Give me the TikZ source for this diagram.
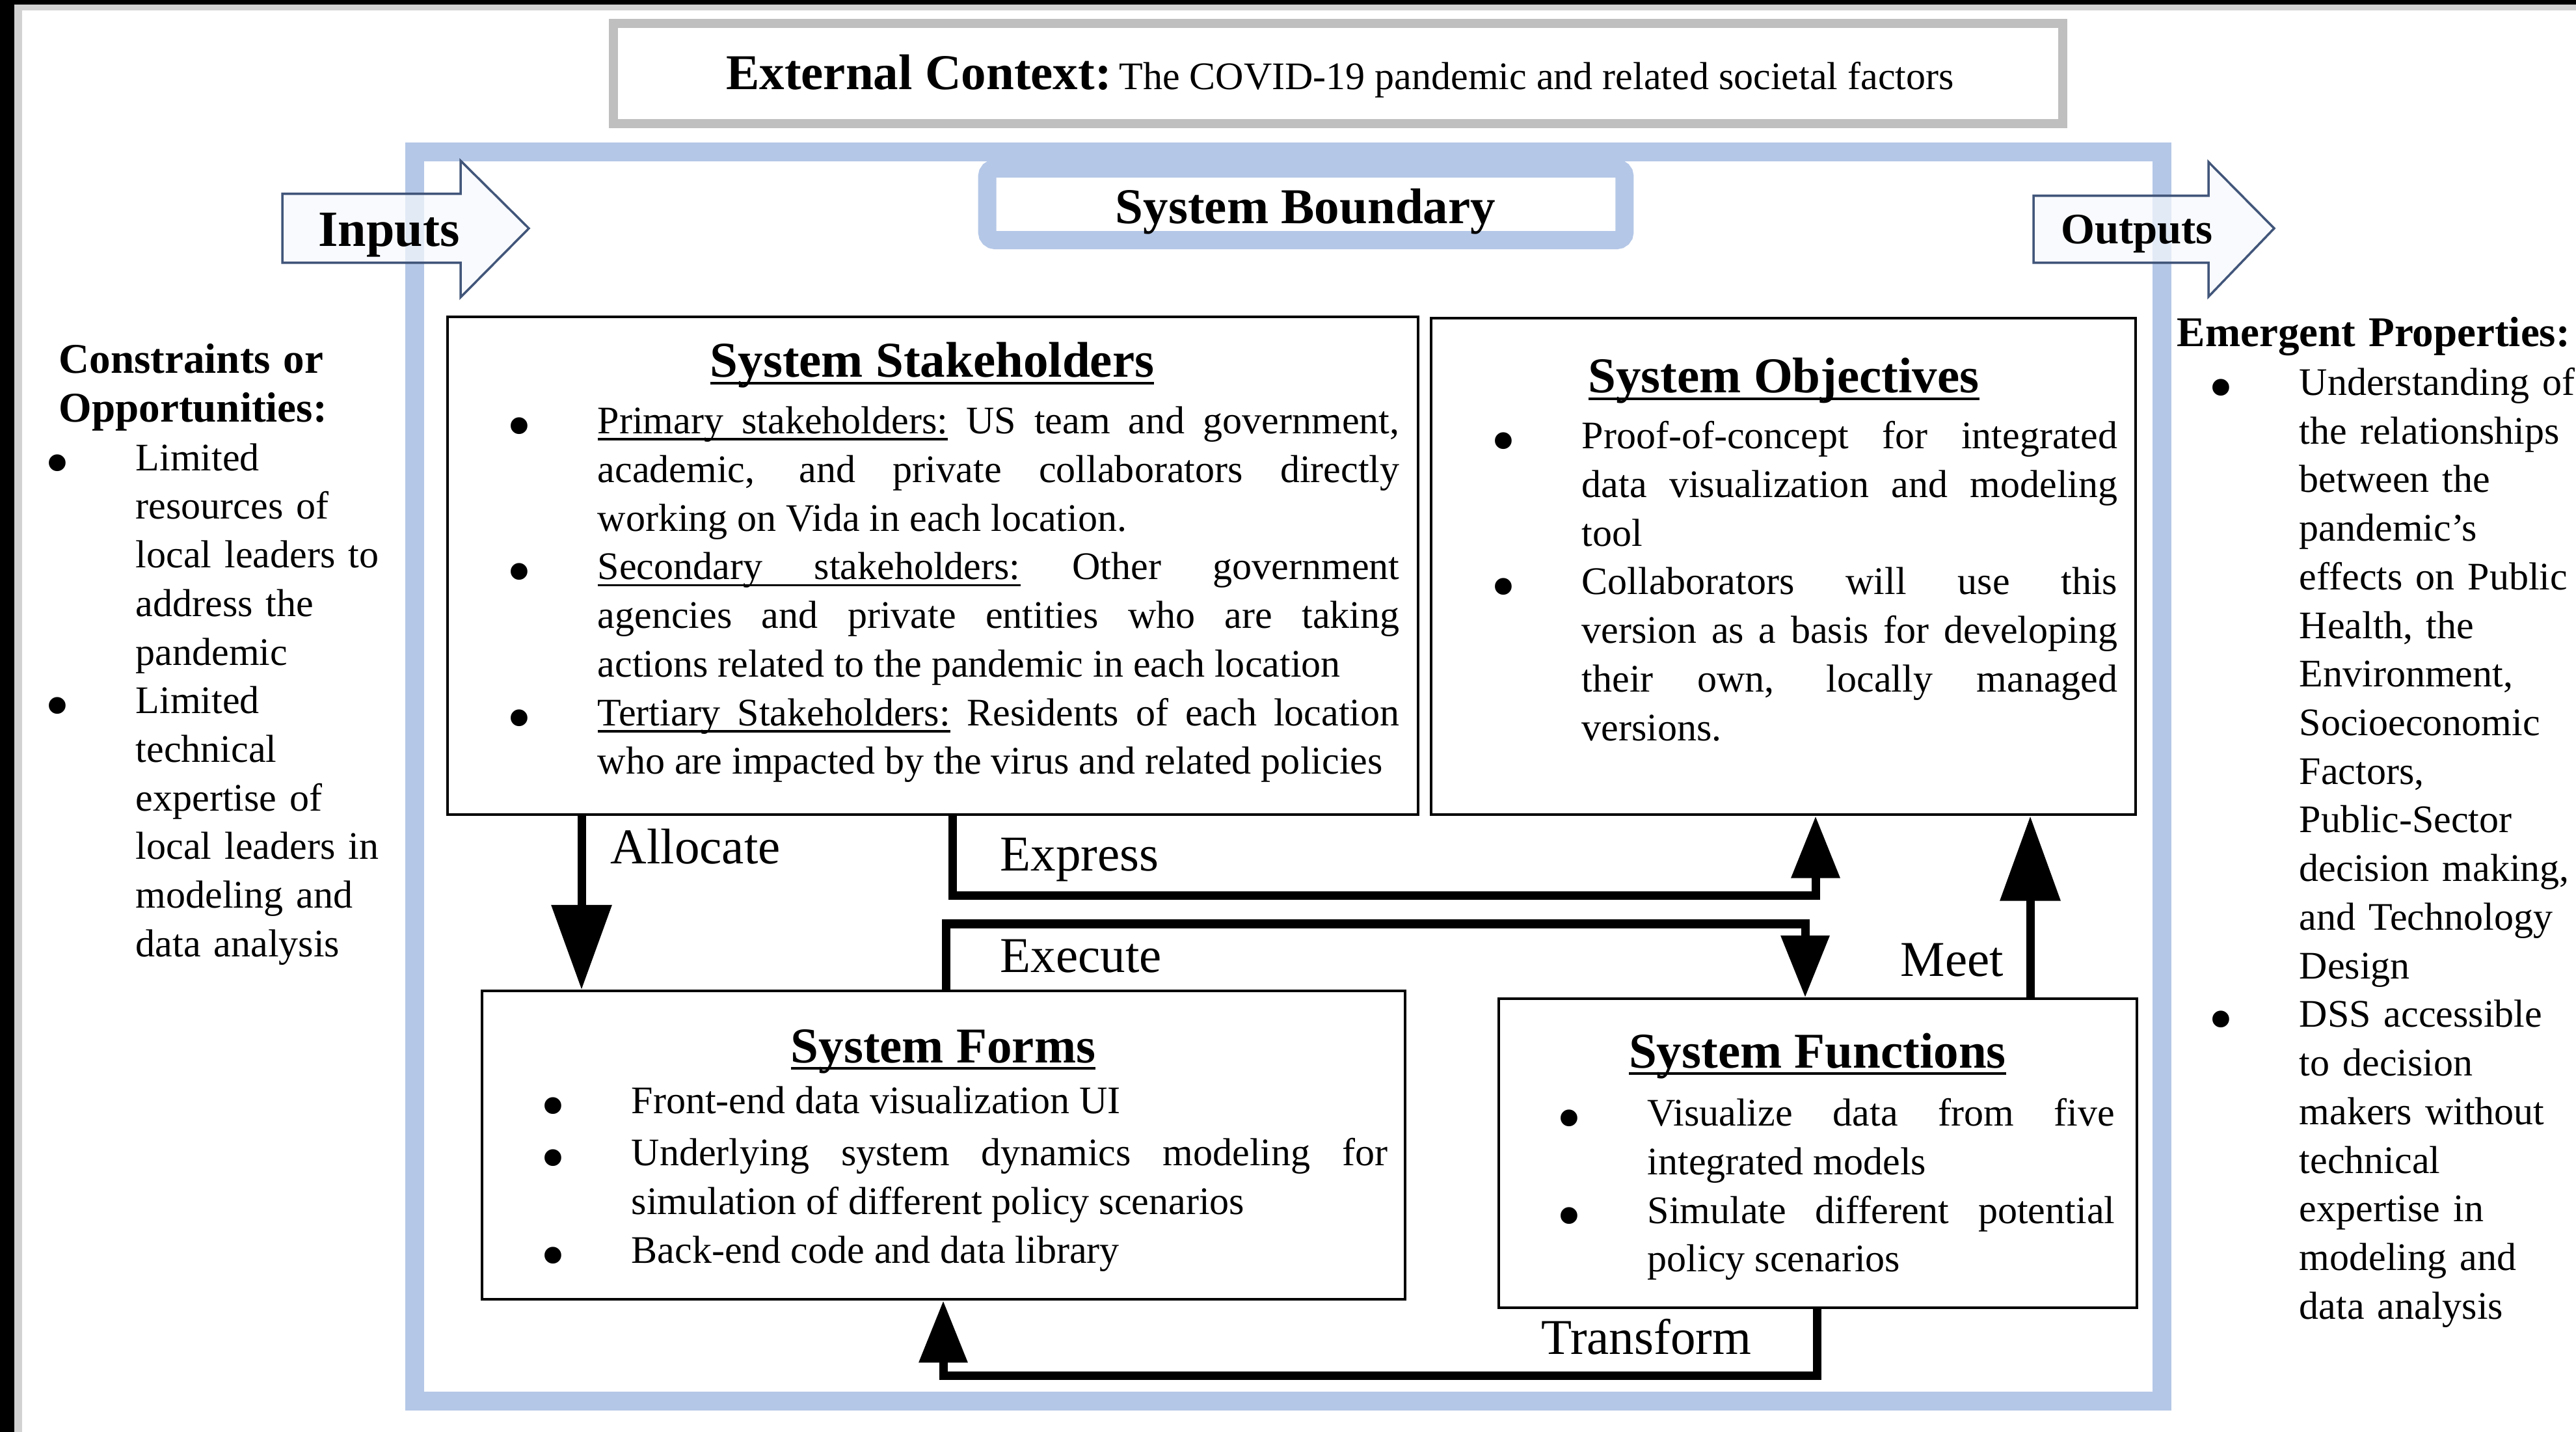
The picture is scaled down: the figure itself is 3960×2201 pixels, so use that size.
\documentclass[tikz,border=0pt]{standalone}
\usepackage{fontspec}
\setmainfont{Liberation Serif}
\usepackage{graphicx}
\usetikzlibrary{arrows.meta,calc,positioning}

\definecolor{bndblue}{HTML}{B4C7E7}
\definecolor{ctxgray}{HTML}{BFBFBF}
\definecolor{ioline}{HTML}{42567A}
\definecolor{iofill}{HTML}{F6F9FD}

\newcommand{\bodyfont}{\fontsize{17.07pt}{21.25pt}\selectfont}
\newcommand{\titlefont}{\fontsize{21.9pt}{26pt}\selectfont\bfseries}
\newcommand{\headfont}{\fontsize{18.5pt}{21.25pt}\selectfont\bfseries}
\newcommand{\bigdot}{\raisebox{-0.24cm}{\scalebox{1.8}{\textbullet}}}
\newcommand{\bitem}[1]{\noindent\hangindent=1.39cm\hangafter=1%
  \makebox[1.39cm][l]{\strut\bigdot}#1\par}
% underlined word and underlined stretchable space
\newcommand{\ulw}[1]{\setbox0=\hbox{#1}\rlap{\rule[-3pt]{\wd0}{1.1pt}}\box0\relax}
\newcommand{\uls}{\leaders\hrule height -1.9pt depth 3pt\hskip\fontdimen2\font plus\fontdimen3\font minus\fontdimen4\font\relax}

\tikzset{
  sysbox/.style={draw, line width=0.04cm, anchor=north west, inner sep=0pt},
  boxtitle/.style={anchor=base, inner sep=0pt, font=\titlefont},
  boxbody/.style={anchor=north west, inner sep=0pt, align=justify, font=\bodyfont,
    execute at begin node={\hyphenpenalty=10000\exhyphenpenalty=10000}},
  sidelist/.style={anchor=north west, inner sep=0pt, align=left, text width=6.1cm, font=\bodyfont},
  flow/.style={line width=0.13cm},
  bigtip/.style={-{Triangle[width=0.9cm,length=1.3cm]}},
  smalltip/.style={-{Triangle[width=0.72cm,length=0.95cm]}},
  flowlabel/.style={anchor=base west, inner sep=0pt, font=\fontsize{21.9pt}{26pt}\selectfont},
  ioarrow/.style={draw=ioline, fill=iofill, fill opacity=0.7, line width=0.035cm}
}

\begin{document}
\begin{tikzpicture}[x=0.01cm,y=-0.01cm]
\useasboundingbox (0,0) rectangle (3960,2201);
\fill[white] (0,0) rectangle (3960,2201);
% screen edge
\fill[black] (0,0) rectangle (22,2201);
\fill[black] (0,0) rectangle (3960,7);
\fill[gray!35] (22,7) rectangle (34,2201);
\fill[gray!35] (22,7) rectangle (3960,16);

% external context
\node[draw=ctxgray, line width=0.14cm, minimum width=22.26cm, minimum height=1.54cm, inner sep=0pt] (ctx) at (2057,113) {};
\node[anchor=base, inner sep=0pt] (ctxtext) at (2060,138)
  {{\titlefont External Context:} {\bodyfont The COVID-19 pandemic and related societal factors}};

% system boundary
\node[draw=bndblue, line width=0.29cm, minimum width=26.845cm, minimum height=19.18cm, inner sep=0pt] (bound) at (1980.25,1193.5) {};

% inputs and outputs
\draw[ioarrow] (434,298) -- (708,298) -- (708,247) -- (813,351) -- (708,457) -- (708,404) -- (434,404) -- cycle;
\node[anchor=base, inner sep=0pt, font=\fontsize{22.2pt}{26pt}\selectfont\bfseries] (inputs) at (598,379) {Inputs};
\draw[ioarrow] (3126,301) -- (3395,301) -- (3395,249) -- (3496,351) -- (3395,456) -- (3395,404) -- (3126,404) -- cycle;
\node[anchor=base, inner sep=0pt, font=\fontsize{19pt}{24pt}\selectfont\bfseries] (outputs) at (3285,375) {Outputs};

\node[draw=bndblue, fill=white, line width=0.28cm, rounded corners=0.12cm, minimum width=9.79cm, minimum height=1.10cm, inner sep=0pt] (bndbox) at (2007.5,314) {};
\node[boxtitle] (bndtext) at (2007,344) {System Boundary};

% the four boxes
\node[sysbox, minimum width=14.91cm, minimum height=7.65cm] (stake) at (686,485) {};
\node[sysbox, minimum width=10.82cm, minimum height=7.63cm] (obj) at (2198,487) {};
\node[sysbox, minimum width=14.18cm, minimum height=4.74cm] (forms) at (739,1521) {};
\node[sysbox, minimum width=9.80cm, minimum height=4.75cm] (func) at (2302,1533) {};

\node[boxtitle] (staketitle) at (1433,580) {\ulw{System Stakeholders}};
\node[boxtitle] (objtitle) at (2742,604) {\ulw{System Objectives}};
\node[boxtitle] (formstitle) at (1450,1633) {\ulw{System Forms}};
\node[boxtitle] (functitle) at (2794,1641) {\ulw{System Functions}};

\node[boxbody, text width=13.71cm] (stakebody) at (779,613.7) {%
  \bitem{\ulw{Primary}\uls\ulw{stakeholders:} US team and government, \linebreak academic, and private collaborators directly \linebreak working on Vida in each location.}
  \bitem{\ulw{Secondary}\uls\ulw{stakeholders:} Other government \linebreak agencies and private entities who are taking \linebreak actions related to the pandemic in each location}
  \bitem{\ulw{Tertiary}\uls\ulw{Stakeholders:} Residents of each location \linebreak who are impacted by the virus and related policies}};

\node[boxbody, text width=9.62cm] (objbody) at (2292,636.7) {%
  \bitem{Proof-of-concept for integrated \linebreak data visualization and modeling \linebreak tool}
  \bitem{Collaborators will use this \linebreak version as a basis for developing \linebreak their own, locally managed \linebreak versions.}};

\node[boxbody, text width=13.01cm] (formsbody) at (831,1658.7) {%
  \bitem{Front-end data visualization UI}
  \bitem{Underlying system dynamics modeling for \linebreak simulation of different policy scenarios}
  \bitem{Back-end code and data library}};

\node[boxbody, text width=8.57cm] (funcbody) at (2393,1677.7) {%
  \bitem{Visualize data from five \linebreak integrated models}
  \bitem{Simulate different potential \linebreak policy scenarios}};

% flows between the boxes
\draw[flow, bigtip] ($(stake.south west)+(208,0)$) -- ($(forms.north west)+(155,0)$);
\draw[flow, smalltip] ($(stake.south west)+(778,0)$) -- ++(0,122) -| ($(obj.south west)+(593,0)$);
\draw[flow, smalltip] ($(forms.north west)+(715,0)$) -- ++(0,-101) -| ($(func.north west)+(473,0)$);
\draw[flow, bigtip] ($(func.north west)+(819,0)$) -- ($(obj.south west)+(923,0)$);
\draw[flow, smalltip] ($(func.south west)+(491,0)$) -- ++(0,102) -| ($(forms.south west)+(711,0)$);

\node[flowlabel] (alloclbl) at (938,1327) {Allocate};
\node[flowlabel] (exprlbl) at (1537,1338) {Express};
\node[flowlabel] (execlbl) at (1537,1494) {Execute};
\node[flowlabel] (meetlbl) at (2921,1500) {Meet};
\node[flowlabel] (translbl) at (2369,2081) {Transform};

% constraints and emergent properties
\node[sidelist] (conlist) at (69,520.7) {%
  {\headfont\strut\hspace*{0.21cm}Constraints or\newline\hspace*{0.21cm}Opportunities:}\par
  \bitem{Limited\newline resources of\newline local leaders to\newline address the\newline pandemic}
  \bitem{Limited\newline technical\newline expertise of\newline local leaders in\newline modeling and\newline data analysis}};

\node[sidelist] (emlist) at (3395,479.7) {%
  {\headfont\strut\hspace*{-0.49cm}Emergent Properties:}\par
  \bitem{Understanding of\newline the relationships\newline between the\newline pandemic’s\newline effects on Public\newline Health, the\newline Environment,\newline Socioeconomic\newline Factors,\newline Public-Sector\newline decision making,\newline and Technology\newline Design}
  \bitem{DSS accessible\newline to decision\newline makers without\newline technical\newline expertise in\newline modeling and\newline data analysis}};
\end{tikzpicture}
\end{document}
